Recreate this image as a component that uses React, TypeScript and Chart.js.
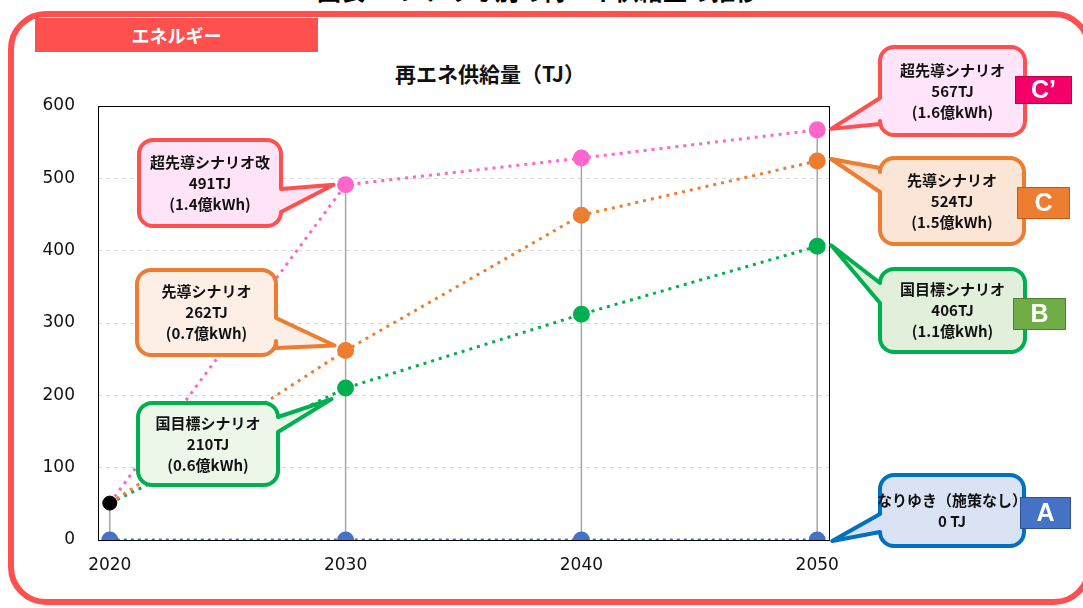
import React, { useEffect, useRef } from "react";
import { Chart, registerables } from "chart.js";

Chart.register(...registerables);

// ---------- data ----------
const years = [2020, 2030, 2040, 2050];
const xTicks = [2020, 2030, 2040, 2050];
const yTicks = [0, 100, 200, 300, 400, 500, 600];
const startValue = 51; // 2020 actual (black point)
const pinkValues = [51, 491, 528, 567]; // 超先導シナリオ(改)
const orangeValues = [51, 262, 449, 524]; // 先導シナリオ
const greenValues = [51, 210, 312, 406]; // 国目標シナリオ
const blueValues = [0, 0, 0, 0]; // なりゆき

const chartTitle = "再エネ供給量（TJ）";
const tabLabel = "エネルギー";
const pageTitle = "図表33 シナリオ別の再エネ供給量の推移";

const calloutTexts = [
  ["超先導シナリオ改", "491TJ", "(1.4億kWh)"],
  ["先導シナリオ", "262TJ", "(0.7億kWh)"],
  ["国目標シナリオ", "210TJ", "(0.6億kWh)"],
  ["超先導シナリオ", "567TJ", "(1.6億kWh)"],
  ["先導シナリオ", "524TJ", "(1.5億kWh)"],
  ["国目標シナリオ", "406TJ", "(1.1億kWh)"],
  ["なりゆき（施策なし）", "0 TJ"],
];
// which series / which year index each callout points at
const calloutSeries = ["pink", "orange", "green", "pink", "orange", "green", "blue"];
const calloutIndex = [1, 1, 1, 3, 3, 3, 3];
const badgeLabels = ["C’", "C", "B", "A"];

// ---------- layout / style ----------
type Box = {
  l: number; t: number; r: number; b: number;
  side: "left" | "right"; y1: number; y2: number; dx: number; dy: number;
  stroke: string; fill: string;
};
const calloutLayout: Box[] = [
  { l: 139, t: 140, r: 281, b: 226, side: "right", y1: 189, y2: 212, dx: -12, dy: 0, stroke: "#FF5050", fill: "#FFE4F8" },
  { l: 137, t: 270, r: 276, b: 355, side: "right", y1: 318, y2: 348, dx: -11, dy: -5, stroke: "#ED7D31", fill: "#FDEFE6" },
  { l: 138, t: 403, r: 278, b: 485, side: "right", y1: 417, y2: 432, dx: -14, dy: 11, stroke: "#00B050", fill: "#ECF6E9" },
  { l: 880, t: 47, r: 1025, b: 135, side: "left", y1: 98, y2: 124, dx: 14, dy: -1, stroke: "#FF5050", fill: "#FFE4FA" },
  { l: 880, t: 158, r: 1024, b: 244, side: "left", y1: 168, y2: 192, dx: 14, dy: -2, stroke: "#ED7D31", fill: "#FBE5D6" },
  { l: 880, t: 269, r: 1025, b: 352, side: "left", y1: 283, y2: 303, dx: 14, dy: -1, stroke: "#00B050", fill: "#E2EFDA" },
  { l: 880, t: 475, r: 1024, b: 546, side: "left", y1: 514, y2: 532, dx: 15, dy: 1, stroke: "#0070C0", fill: "#DAE3F3" },
];
const badgeLayout = [
  { x: 1015, y: 76, w: 57, h: 28, fill: "#F5006A", stroke: "#C0004F" },
  { x: 1017, y: 187, w: 53, h: 32, fill: "#ED7D31", stroke: "#C55A11" },
  { x: 1013, y: 298, w: 53, h: 32, fill: "#70AD47", stroke: "#507E32" },
  { x: 1020, y: 497, w: 51, h: 32, fill: "#4472C4", stroke: "#2F528F" },
];

const seriesColors: Record<string, string> = {
  pink: "#FF66CC",
  orange: "#ED7D31",
  green: "#00B050",
  blue: "#4472C4",
};

const CJK = '"Noto Sans CJK JP", "Noto Sans", sans-serif';

function calloutPath(ctx: CanvasRenderingContext2D, b: Box, tx: number, ty: number) {
  const r = 14;
  const { l, t, r: R, b: B } = b;
  ctx.beginPath();
  ctx.moveTo(l + r, t);
  ctx.lineTo(R - r, t);
  ctx.arcTo(R, t, R, t + r, r);
  if (b.side === "right") {
    ctx.lineTo(R, b.y1);
    ctx.lineTo(tx, ty);
    ctx.lineTo(R, b.y2);
  }
  ctx.lineTo(R, B - r);
  ctx.arcTo(R, B, R - r, B, r);
  ctx.lineTo(l + r, B);
  ctx.arcTo(l, B, l, B - r, r);
  if (b.side === "left") {
    ctx.lineTo(l, b.y2);
    ctx.lineTo(tx, ty);
    ctx.lineTo(l, b.y1);
  }
  ctx.lineTo(l, t + r);
  ctx.arcTo(l, t, l + r, t, r);
  ctx.closePath();
}

const seriesValues: Record<string, number[]> = {
  pink: pinkValues,
  orange: orangeValues,
  green: greenValues,
  blue: blueValues,
};

const decorPlugin = {
  id: "decor",
  beforeDatasetsDraw(chart: any) {
    const ctx: CanvasRenderingContext2D = chart.ctx;
    const xs = chart.scales.x;
    const ys = chart.scales.y;
    const area = chart.chartArea;
    ctx.save();
    // drop lines
    ctx.strokeStyle = "#A6A6A6";
    ctx.lineWidth = 1.5;
    years.forEach((yr, i) => {
      const top = Math.max(pinkValues[i], orangeValues[i], greenValues[i], i === 0 ? startValue : 0);
      const px = xs.getPixelForValue(yr);
      ctx.beginPath();
      ctx.moveTo(px, ys.getPixelForValue(top));
      ctx.lineTo(px, ys.getPixelForValue(0));
      ctx.stroke();
    });
    // plot frame
    ctx.strokeStyle = "#000";
    ctx.lineWidth = 1;
    ctx.strokeRect(Math.round(area.left) + 0.5, Math.round(area.top) + 0.5, Math.round(area.right - area.left), Math.round(area.bottom - area.top));
    ctx.restore();
  },
  afterDatasetsDraw(chart: any) {
    const ctx: CanvasRenderingContext2D = chart.ctx;
    const xs = chart.scales.x;
    const ys = chart.scales.y;
    ctx.save();
    calloutLayout.forEach((b, i) => {
      const ser = calloutSeries[i];
      const idx = calloutIndex[i];
      const px = xs.getPixelForValue(years[idx]);
      const py = ys.getPixelForValue(seriesValues[ser][idx]);
      const tx = px + b.dx;
      const ty = py + b.dy;
      calloutPath(ctx, b, tx, ty);
      ctx.fillStyle = b.fill;
      ctx.fill();
      ctx.lineWidth = 4;
      ctx.lineJoin = "round";
      ctx.strokeStyle = b.stroke;
      ctx.stroke();
      const lines = calloutTexts[i];
      const cx = (b.l + b.r) / 2;
      const cy = (b.t + b.b) / 2;
      const lh = 21;
      ctx.fillStyle = "#111";
      ctx.font = `bold 15px ${CJK}`;
      ctx.textAlign = "center";
      ctx.textBaseline = "middle";
      lines.forEach((s, k) => {
        ctx.fillText(s, cx, cy + (k - (lines.length - 1) / 2) * lh);
      });
    });
    badgeLayout.forEach((g, i) => {
      ctx.fillStyle = g.fill;
      ctx.fillRect(g.x, g.y, g.w, g.h);
      ctx.strokeStyle = g.stroke;
      ctx.lineWidth = 1;
      ctx.strokeRect(g.x + 0.5, g.y + 0.5, g.w - 1, g.h - 1);
      ctx.fillStyle = "#fff";
      ctx.font = 'bold 25px "Liberation Sans", Arial, sans-serif';
      ctx.textAlign = "center";
      ctx.textBaseline = "middle";
      ctx.fillText(badgeLabels[i], g.x + g.w / 2, g.y + g.h / 2 + 1);
    });
    ctx.restore();
  },
};

function pts(vals: number[]) {
  return years.map((x, i) => ({ x, y: vals[i] }));
}

export default function App() {
  const ref = useRef<HTMLCanvasElement>(null);
  useEffect(() => {
    if (!ref.current) return;
    const lineDs = (label: string, vals: number[], color: string) => ({
      label,
      data: pts(vals),
      borderColor: color,
      backgroundColor: color,
      pointBackgroundColor: color,
      pointBorderColor: color,
      borderWidth: 3,
      borderDash: [3, 5],
      pointRadius: [0, 7, 7, 7],
      pointHoverRadius: 0,
      tension: 0,
    });
    const chart = new Chart(ref.current, {
      type: "line",
      data: {
        datasets: [
          {
            label: "2020",
            data: [{ x: years[0], y: startValue }],
            showLine: false,
            pointRadius: 7,
            pointBackgroundColor: "#000",
            pointBorderColor: "#000",
            borderColor: "#000",
          } as any,
          lineDs("超先導シナリオ", pinkValues, seriesColors.pink),
          lineDs("先導シナリオ", orangeValues, seriesColors.orange),
          lineDs("国目標シナリオ", greenValues, seriesColors.green),
          { ...lineDs("なりゆき", blueValues, seriesColors.blue), pointRadius: 7, borderDash: [3, 4] },
        ],
      },
      options: {
        animation: false,
        responsive: false,
        devicePixelRatio: 1,
        layout: { padding: { left: 0, top: 106, right: 254, bottom: 0 } },
        plugins: { legend: { display: false }, tooltip: { enabled: false }, title: { display: false } },
        scales: {
          x: {
            type: "linear",
            min: 2019.5,
            max: 2050.5,
            afterBuildTicks: (s: any) => {
              s.ticks = xTicks.map((value) => ({ value }));
            },
            afterFit: (s: any) => {
              s.height = 68;
            },
            grid: { display: false, drawTicks: false },
            border: { display: false },
            ticks: {
              autoSkip: false,
              maxRotation: 0,
              padding: 15,
              color: "#111",
              font: { family: '"DejaVu Sans", sans-serif', size: 17 },
              callback: (v: any) => String(v),
            },
          },
          y: {
            min: 0,
            max: 600,
            afterBuildTicks: (s: any) => {
              s.ticks = yTicks.map((value) => ({ value }));
            },
            afterFit: (s: any) => {
              s.width = 98;
            },
            grid: { color: "#D9D9D9", lineWidth: 1, drawTicks: false } as any,
            border: { display: false, dash: [4, 4] },
            ticks: {
              padding: 23,
              color: "#111",
              font: { family: '"DejaVu Sans", sans-serif', size: 17 },
            },
          },
        },
      },
      plugins: [decorPlugin],
    } as any);
    return () => chart.destroy();
  }, []);

  return (
    <div style={{ position: "fixed", left: 0, top: 0, width: 1083, height: 608, overflow: "hidden", background: "#fff" }}>
      <div
        style={{
          position: "absolute",
          left: 0,
          top: -22,
          width: 1076,
          textAlign: "center",
          fontFamily: CJK,
          fontWeight: 700,
          fontSize: 24,
          lineHeight: "24px",
          color: "#000",
        }}
      >
        {pageTitle}
      </div>
      <div
        style={{
          position: "absolute",
          left: 8,
          top: 11,
          width: 1084,
          height: 594,
          boxSizing: "border-box",
          border: "6px solid #FF5050",
          borderRadius: 38,
        }}
      />
      <div
        style={{
          position: "absolute",
          left: 35,
          top: 18,
          width: 283,
          height: 34,
          background: "#FF5050",
          color: "#fff",
          fontFamily: CJK,
          fontWeight: 700,
          fontSize: 18,
          lineHeight: "34px",
          textAlign: "center",
        }}
      >
        {tabLabel}
      </div>
      <div
        style={{
          position: "absolute",
          left: 290,
          top: 59,
          width: 400,
          textAlign: "center",
          fontFamily: CJK,
          fontWeight: 700,
          fontSize: 21,
          lineHeight: "28px",
          color: "#111",
        }}
      >
        {chartTitle}
      </div>
      <canvas ref={ref} width={1083} height={608} style={{ position: "absolute", left: 0, top: 0 }} />
    </div>
  );
}
